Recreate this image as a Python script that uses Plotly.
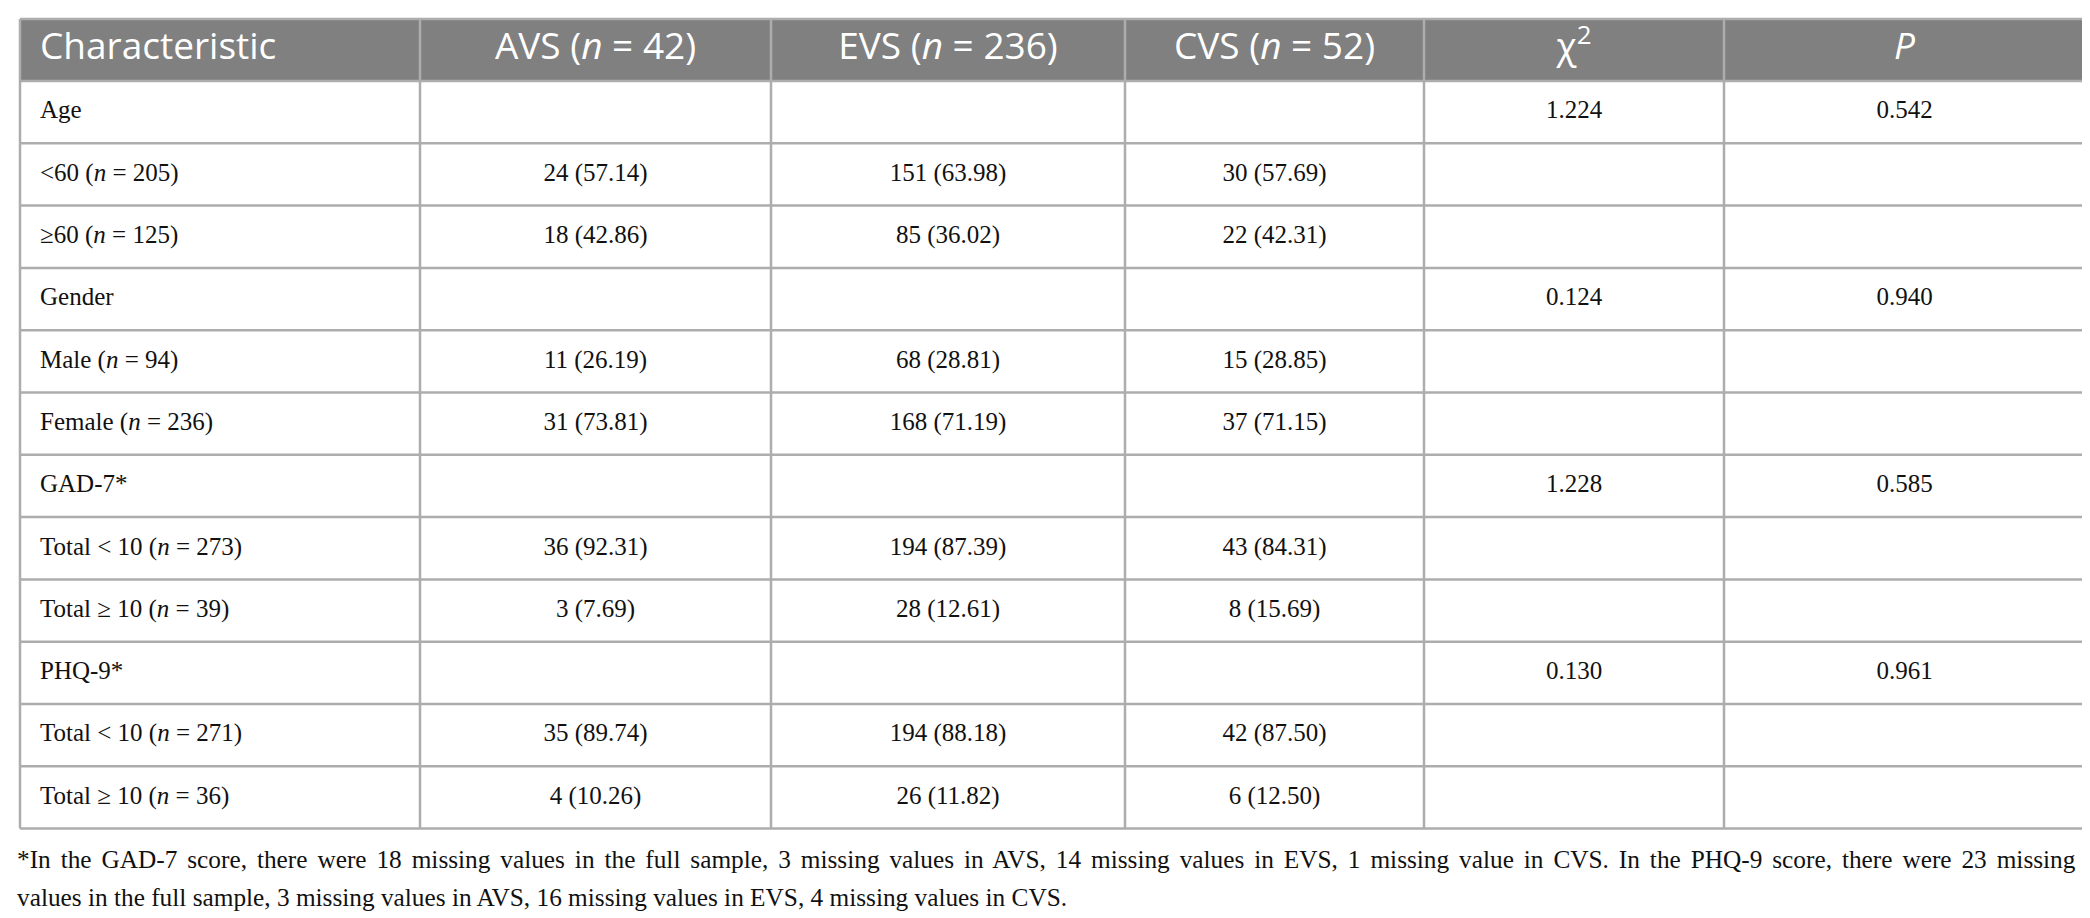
import plotly.graph_objects as go

W, H = 2090, 918

headers = ['Characteristic', 'AVS (<i>n</i> = 42)', 'EVS (<i>n</i> = 236)',
           'CVS (<i>n</i> = 52)', 'χ<sup>2</sup>', '<i>P</i>']

characteristic = ['Age', '&lt;60 (<i>n</i> = 205)', '≥60 (<i>n</i> = 125)',
                  'Gender', 'Male (<i>n</i> = 94)', 'Female (<i>n</i> = 236)',
                  'GAD-7*', 'Total &lt; 10 (<i>n</i> = 273)', 'Total ≥ 10 (<i>n</i> = 39)',
                  'PHQ-9*', 'Total &lt; 10 (<i>n</i> = 271)', 'Total ≥ 10 (<i>n</i> = 36)']
avs = ['', '24 (57.14)', '18 (42.86)', '', '11 (26.19)', '31 (73.81)',
       '', '36 (92.31)', '3 (7.69)', '', '35 (89.74)', '4 (10.26)']
evs = ['', '151 (63.98)', '85 (36.02)', '', '68 (28.81)', '168 (71.19)',
       '', '194 (87.39)', '28 (12.61)', '', '194 (88.18)', '26 (11.82)']
cvs = ['', '30 (57.69)', '22 (42.31)', '', '15 (28.85)', '37 (71.15)',
       '', '43 (84.31)', '8 (15.69)', '', '42 (87.50)', '6 (12.50)']
chi2 = ['1.224', '', '', '0.124', '', '', '1.228', '', '', '0.130', '', '']
p_values = ['0.542', '', '', '0.940', '', '', '0.585', '', '', '0.961', '', '']

footnote = [
    '*In the GAD-7 score, there were 18 missing values in the full sample, 3 missing values in AVS, '
    '14 missing values in EVS, 1 missing value in CVS. In the PHQ-9 score, there were 23 missing',
    'values in the full sample, 3 missing values in AVS, 16 missing values in EVS, 4 missing values in CVS.',
]

# layout of the grid, in pixels
col_widths = [400, 351, 354, 299, 300, 361]
table_left, table_top = 12, 11
header_h, row_h = 62, 62.3
text_indent = 20
line_color = '#adadad'
text_color = '#111111'
serif = 'Liberation Serif'

col_edges = [table_left]
for w in col_widths:
    col_edges.append(col_edges[-1] + w)
row_edges = [table_top, table_top + header_h]
for _ in characteristic:
    row_edges.append(row_edges[-1] + row_h)

columns = [characteristic, avs, evs, cvs, chi2, p_values]

fig = go.Figure()

# header band
fig.add_shape(type='rect', x0=col_edges[0], x1=col_edges[-1],
              y0=row_edges[0], y1=row_edges[1],
              fillcolor='#808080', line_width=0, layer='below')

# grid lines
for y in row_edges:
    fig.add_shape(type='line', x0=col_edges[0], x1=col_edges[-1], y0=y, y1=y,
                  line=dict(color=line_color, width=2.5))
for x in col_edges:
    fig.add_shape(type='line', x0=x, x1=x, y0=row_edges[0], y1=row_edges[-1],
                  line=dict(color=line_color, width=2.5))

header_y = (row_edges[0] + row_edges[1]) / 2
row_y = [(row_edges[i + 1] + row_edges[i + 2]) / 2 for i in range(len(characteristic))]

for j, (head, vals) in enumerate(zip(headers, columns)):
    if j == 0:
        x = col_edges[0] + text_indent
        pos = 'middle right'
    else:
        x = (col_edges[j] + col_edges[j + 1]) / 2
        pos = 'middle center'
    fig.add_trace(go.Scatter(
        x=[x], y=[header_y], text=[head], mode='text', textposition=pos,
        textfont=dict(family='Open Sans', size=37, color='white'),
        hoverinfo='skip', showlegend=False,
    ))
    fig.add_trace(go.Scatter(
        x=[x] * len(vals), y=row_y, text=vals, mode='text', textposition=pos,
        textfont=dict(family=serif, size=25, color=text_color),
        hoverinfo='skip', showlegend=False,
    ))

# first footnote line is justified to the table width in the original
spacing = ['3.6px', '0px']
for i, line in enumerate(footnote):
    fig.add_annotation(
        text='<span style="word-spacing:%s">%s</span>' % (spacing[i], line),
        xref='x', yref='y',
        x=7, y=851 + 38 * i,
        xanchor='left', yanchor='middle', showarrow=False,
        font=dict(family=serif, size=25.3, color=text_color),
    )

fig.update_xaxes(range=[0, W], visible=False, fixedrange=True)
fig.update_yaxes(range=[H, 0], visible=False, fixedrange=True)
fig.update_layout(
    width=W, height=H,
    margin=dict(l=0, r=0, t=0, b=0),
    paper_bgcolor='white', plot_bgcolor='white',
)

fig.write_html('out.html')
